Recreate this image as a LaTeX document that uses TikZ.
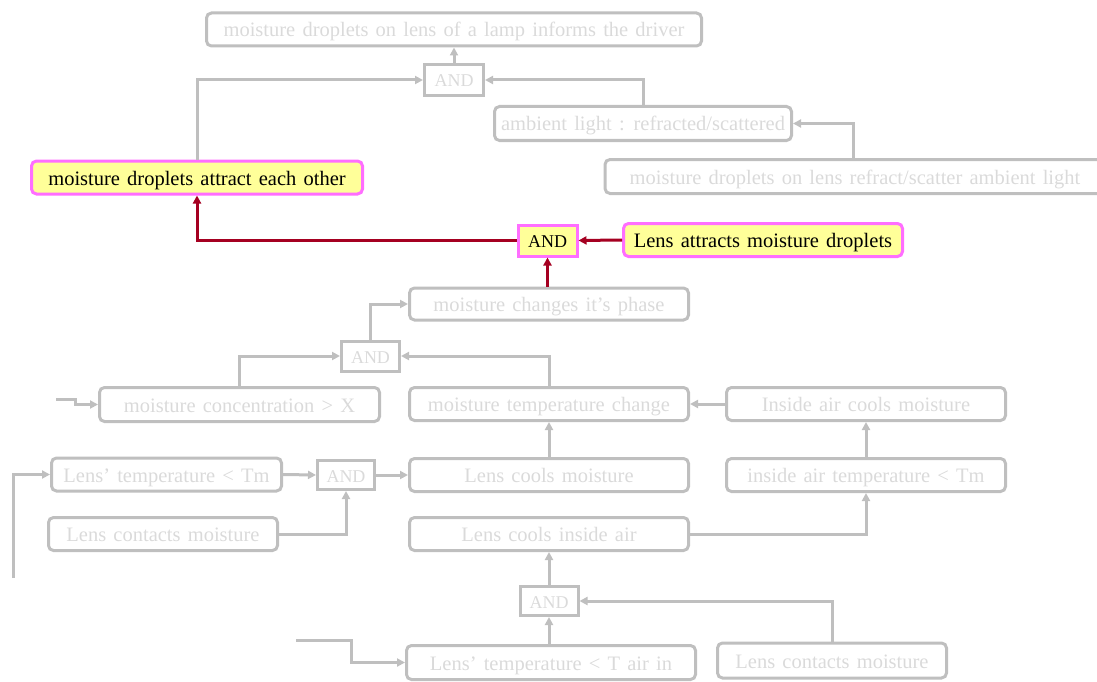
\documentclass[tikz,border=0pt]{standalone}
\usepackage{fontspec}
\setmainfont[WordSpace={1.4}]{Liberation Serif}
\usetikzlibrary{arrows.meta}

\definecolor{linegray}{RGB}{191,191,191}
\definecolor{textgray}{RGB}{218,218,218}
\definecolor{hlfill}{RGB}{255,255,153}
\definecolor{hlborder}{RGB}{255,110,255}
\definecolor{hlarrow}{RGB}{165,0,33}

\tikzset{
  lbl/.style={font=\fontsize{20.5}{22}\selectfont, inner sep=0pt, align=center,
    text height=17pt, text depth=2pt},
  gatelbl/.style={font=\fontsize{18}{20}\selectfont, inner sep=0pt, align=center,
    text height=15pt, text depth=1pt},
  fact/.style={lbl, draw=linegray, line width=3pt, rounded corners=5pt, text=textgray},
  gate/.style={gatelbl, draw=linegray, line width=3pt, text=textgray},
  hlfact/.style={lbl, draw=hlborder, fill=hlfill, line width=3pt, rounded corners=5pt, text=black},
  hlgate/.style={gatelbl, draw=hlborder, fill=hlfill, line width=3pt, text=black},
  link/.style={draw=linegray, line width=3pt, -{Triangle[length=8pt,width=8pt]}},
  hllink/.style={draw=hlarrow, line width=3pt, -{Triangle[length=8pt,width=8pt]}},
  sz/.style 2 args={minimum width=#1, minimum height=#2},
}

\begin{document}
\begin{tikzpicture}[x=1pt,y=-1pt]
\useasboundingbox (0,0) rectangle (1097,682);

% top of the tree
\node[fact, sz={495}{33}] (top) at (454,29.5) {moisture droplets on lens of a lamp informs the driver};
\node[gate, sz={59}{31}] (and1) at (454,80) {AND};
\node[fact, sz={297}{34}] (amb) at (643,123.5) {ambient light : refracted/scattered};
\node[fact, sz={500}{34}] (refr) at (855,176.5) {moisture droplets on lens refract/scatter ambient light};

% highlighted path
\node[hlfact, sz={331}{33}] (attract) at (197,177.5) {moisture droplets attract each other};
\node[hlgate, sz={59}{31}] (and2) at (547.5,240.5) {AND};
\node[hlfact, sz={279}{33}] (lensattr) at (763,240) {Lens attracts moisture droplets};

% phase change branch
\node[fact, sz={279}{32}] (phase) at (549,304) {moisture changes it's phase};
\node[gate, sz={58}{30}] (and3) at (370.5,356) {AND};
\node[fact, sz={280}{34}] (conc) at (239.5,404.5) {moisture concentration > X};
\node[fact, sz={279}{33}] (mtc) at (549,404) {moisture temperature change};
\node[fact, sz={279}{33}] (iacm) at (866,404) {Inside air cools moisture};

% cooling branch
\node[fact, sz={230}{33}] (ltm) at (166.5,474.5) {Lens' temperature < Tm};
\node[gate, sz={57}{29}] (and4) at (346,475) {AND};
\node[fact, sz={279}{33}] (lcm) at (549,475) {Lens cools moisture};
\node[fact, sz={279}{33}] (iat) at (866,475) {inside air temperature < Tm};
\node[fact, sz={229}{33}] (lcontact) at (163,534) {Lens contacts moisture};
\node[fact, sz={279}{33}] (lcia) at (549,534) {Lens cools inside air};
\node[gate, sz={58}{29}] (and5) at (549,601) {AND};
\node[fact, sz={289}{34}] (ltair) at (551,662.5) {Lens' temperature < T air in};
\node[fact, sz={229}{35}] (lcontact2) at (832,660.5) {Lens contacts moisture};

% loose inputs
\coordinate (inconc) at (56,399);
\coordinate (inltm) at (13,578);
\coordinate (inltair) at (296,640);

% connectors
\draw[link] (and1.north) -- (top.south);
\draw[link] (attract.north) |- (and1.west);
\draw[link] (amb.north) |- (and1.east);
\draw[link] ([xshift=-2pt]refr.north) |- (amb.east);

\draw[hllink] (and2.west) -| (attract.south);
\draw[hllink] (lensattr.west) -- (and2.east);
\draw[hllink] (and2.south |- phase.north) -- (and2.south);

\draw[link] (and3.north) |- (phase.west);
\draw[link] (conc.north) |- (and3.west);
\draw[link] (mtc.north) |- (and3.east);
\draw[link] (iacm.west) -- (mtc.east);
\draw[link] (inconc) -- ++(19,0) |- (conc.west);

\draw[link] (lcm.north) -- (mtc.south);
\draw[link] (iat.north) -- (iacm.south);
\draw[link] (ltm.east) -- (and4.west);
\draw[link] (and4.east) -- (lcm.west);
\draw[link] (lcontact.east) -| (and4.south);
\draw[link] (inltm) |- (ltm.west);
\draw[link] (lcia.east) -| (iat.south);
\draw[link] (and5.north) -- (lcia.south);
\draw[link] (and5.south |- ltair.north) -- (and5.south);
\draw[link] (lcontact2.north) |- (and5.east);
\draw[link] (inltair) -- ++(55,0) |- (ltair.west);
\end{tikzpicture}
\end{document}
